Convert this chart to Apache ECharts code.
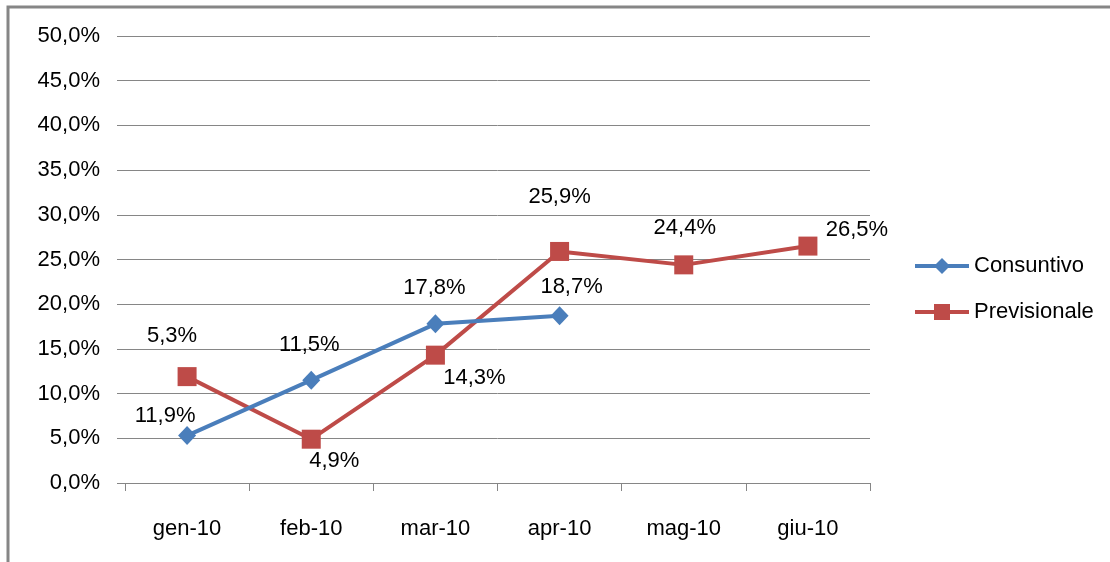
<!DOCTYPE html>
<html>
<head>
<meta charset="utf-8">
<script src="https://cdn.jsdelivr.net/npm/echarts@6/dist/echarts.min.js"></script>
<style>
  html, body { margin: 0; padding: 0; background: #fff; }
  #chart { width: 1110px; height: 562px; }
</style>
</head>
<body>
<div id="chart"></div>
<script>
// dati del grafico
var mesi = ['gen-10', 'feb-10', 'mar-10', 'apr-10', 'mag-10', 'giu-10'];
var consuntivo = [5.3, 11.5, 17.8, 18.7];
var previsionale = [11.9, 4.9, 14.3, 25.9, 24.4, 26.5];
// spostamento delle etichette rispetto al punto (come nel grafico originale)
var offsetConsuntivo = [[-15, -100], [-2, -35], [-1, -36], [12, -29]];
var offsetPrevisionale = [[-22, 39], [23, 22], [39, 23], [0, -55], [1, -37], [49, -16]];

var FONT = '"Liberation Sans", Arial, sans-serif';
var GRIGIO = '#868686';

function fmt(v) {
    return v.toFixed(1).replace('.', ',') + '%';
}

function conEtichette(valori, offsets) {
    return valori.map(function (v, i) {
        return { value: v, label: { offset: offsets[i] } };
    });
}

var myChart = echarts.init(document.getElementById('chart'));

var option = {
    animation: false,
    backgroundColor: '#fff',
    textStyle: { fontFamily: FONT },
    graphic: [{
        type: 'rect',
        shape: { x: 8, y: 7, width: 1300, height: 700 },
        style: { fill: 'none', stroke: GRIGIO, lineWidth: 3 },
        silent: true
    }],
    grid: {
        left: 125,
        right: 240,
        top: 36,
        bottom: 79,
        containLabel: false
    },
    legend: {
        orient: 'vertical',
        left: 908,
        top: 250,
        itemWidth: 54,
        itemHeight: 20,
        itemGap: 24,
        lineStyle: { width: 4 },
        textStyle: { fontFamily: FONT, fontSize: 22, color: '#000' },
        data: ['Consuntivo', 'Previsionale']
    },
    xAxis: {
        type: 'category',
        data: mesi,
        boundaryGap: true,
        axisLine: { show: true, lineStyle: { color: GRIGIO, width: 1 } },
        axisTick: { show: true, length: 8, lineStyle: { color: GRIGIO } },
        axisLabel: { color: '#000', fontSize: 22, fontFamily: FONT, margin: 35 },
        splitLine: { show: false }
    },
    yAxis: {
        type: 'value',
        min: 0,
        max: 50,
        interval: 5,
        axisLine: { show: false },
        axisTick: { show: true, length: 8, lineStyle: { color: GRIGIO } },
        axisLabel: {
            color: '#000', fontSize: 22, fontFamily: FONT, margin: 25,
            formatter: function (v) { return fmt(v); }
        },
        splitLine: { show: true, lineStyle: { color: GRIGIO, width: 1 } }
    },
    series: [
        {
            name: 'Consuntivo',
            type: 'line',
            data: conEtichette(consuntivo, offsetConsuntivo),
            symbol: 'diamond',
            symbolSize: [18, 19],
            color: '#4A7EBB',
            lineStyle: { color: '#4A7EBB', width: 4 },
            itemStyle: { color: '#4A7EBB' },
            label: {
                show: true,
                position: 'inside',
                color: '#000',
                fontSize: 22,
                fontFamily: FONT,
                formatter: function (p) { return fmt(p.value); }
            },
            z: 3
        },
        {
            name: 'Previsionale',
            type: 'line',
            data: conEtichette(previsionale, offsetPrevisionale),
            symbol: 'rect',
            symbolSize: 19,
            color: '#BE4B48',
            lineStyle: { color: '#BE4B48', width: 4 },
            itemStyle: { color: '#BE4B48' },
            label: {
                show: true,
                position: 'inside',
                color: '#000',
                fontSize: 22,
                fontFamily: FONT,
                formatter: function (p) { return fmt(p.value); }
            },
            z: 2
        }
    ]
};

myChart.setOption(option);
</script>
</body>
</html>
